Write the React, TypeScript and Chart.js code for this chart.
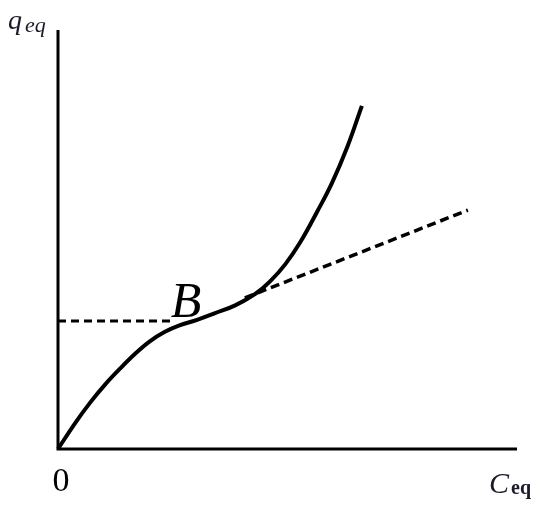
import React, { useEffect, useRef } from "react";
import { Chart, registerables } from "chart.js";

Chart.register(...registerables);

// Isotherm curve (arbitrary units)
const curveX = [0, 3.7, 7.0, 10.2, 13.5, 16.8, 20.0, 23.3, 26.6, 30.3, 34.2, 38.6, 42.9, 46.2, 49.5, 52.7, 56.4, 59.7, 63.0, 66.2];
const curveY = [0, 6.2, 11.2, 15.5, 19.4, 23.0, 26.0, 28.3, 29.9, 31.2, 32.8, 34.7, 37.4, 40.5, 44.6, 49.8, 57.2, 64.3, 72.9, 82.9];
// Horizontal dashed line (monolayer level through B)
const plateauX = [0, 25.5];
const plateauY = [30.9, 30.9];
// Dashed tangent line
const tangentX = [40.7, 89.3];
const tangentY = [36.5, 57.7];

const axisMax = 100;

const labels = {
  yMain: "q",
  ySub: "eq",
  xMain: "C",
  xSub: "eq",
  origin: "0",
  point: "B",
};

const toPts = (xs: number[], ys: number[]) => xs.map((x, i) => ({ x, y: ys[i] }));

const decorPlugin = {
  id: "decor",
  afterDraw(chart: any) {
    const { ctx, chartArea } = chart;
    const { left, right, top, bottom } = chartArea;
    ctx.save();
    ctx.strokeStyle = "#000";
    ctx.lineWidth = 3;
    ctx.lineCap = "butt";
    ctx.beginPath();
    ctx.moveTo(left, top - 5);
    ctx.lineTo(left, bottom);
    ctx.lineTo(right, bottom);
    ctx.stroke();

    ctx.fillStyle = "#1b1b2b";
    ctx.textBaseline = "alphabetic";
    ctx.textAlign = "left";
    // y label
    ctx.font = 'italic 28px "Liberation Serif"';
    ctx.fillText(labels.yMain, 8, 29);
    ctx.font = 'italic 22px "Liberation Serif"';
    ctx.fillText(labels.ySub, 25, 32);
    // x label
    ctx.font = 'italic 30px "Liberation Serif"';
    ctx.fillText(labels.xMain, 489, 493);
    ctx.font = 'bold 20px "Liberation Serif"';
    ctx.fillText(labels.xSub, 511, 494);
    // origin
    ctx.fillStyle = "#000";
    ctx.textAlign = "center";
    ctx.font = '34px "Liberation Serif"';
    ctx.fillText(labels.origin, 61, 491);
    // B
    const xs = chart.scales.x;
    const ys = chart.scales.y;
    ctx.font = 'italic 50px "Liberation Serif"';
    ctx.fillText(labels.point, xs.getPixelForValue(plateauX[1]) + 11, ys.getPixelForValue(plateauY[0]) - 4);
    ctx.restore();
  },
};

export default function App() {
  const ref = useRef<HTMLCanvasElement | null>(null);
  useEffect(() => {
    if (!ref.current) return;
    const chart = new Chart(ref.current, {
      type: "scatter",
      data: {
        datasets: [
          {
            data: toPts(plateauX, plateauY),
            showLine: true,
            borderColor: "#000",
            borderWidth: 3,
            borderDash: [8, 5],
            pointRadius: 0,
            fill: false,
          },
          {
            data: toPts(tangentX, tangentY),
            showLine: true,
            borderColor: "#000",
            borderWidth: 3.5,
            borderDash: [9, 5],
            pointRadius: 0,
            fill: false,
          },
          {
            data: toPts(curveX, curveY),
            showLine: true,
            borderColor: "#000",
            borderWidth: 4,
            tension: 0.4,
            pointRadius: 0,
            fill: false,
          },
        ],
      },
      options: {
        responsive: false,
        animation: false,
        clip: false,
        layout: { padding: { left: 58, right: 33, top: 35, bottom: 61 } },
        plugins: { legend: { display: false }, tooltip: { enabled: false } },
        scales: {
          x: { type: "linear", min: 0, max: axisMax, display: false },
          y: { type: "linear", min: 0, max: axisMax, display: false },
        },
      },
      plugins: [decorPlugin],
    } as any);
    return () => chart.destroy();
  }, []);
  return (
    <div style={{ position: "absolute", left: 0, top: 0, width: 550, height: 510, background: "#fff" }}>
      <canvas ref={ref} width={550} height={510} />
    </div>
  );
}
